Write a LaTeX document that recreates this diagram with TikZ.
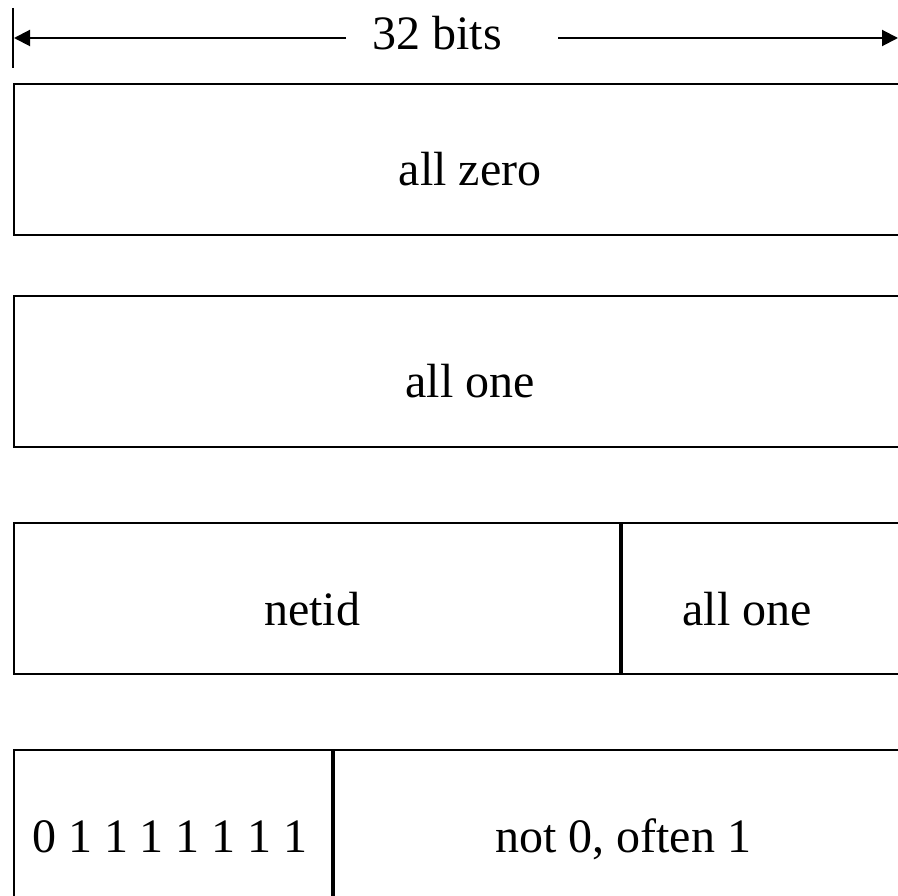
\documentclass[tikz,border=0pt]{standalone}
\usepackage{fontspec}
\setmainfont{Liberation Serif}
\usetikzlibrary{arrows.meta}
\begin{document}
\begin{tikzpicture}[x=1pt,y=-1pt,
  cell/.style={draw=black,line width=2.2pt,inner sep=0pt,minimum height=151pt},
  lbl/.style={font=\fontsize{48}{57}\selectfont,anchor=base,inner sep=0pt},
  dim/.style={line width=2pt,-{Triangle[length=16pt,width=16pt]}}]
\useasboundingbox (0,0) rectangle (898,896);
\clip (0,0) rectangle (898,896);
% dimension line
\draw[line width=2.7pt] (13,8) -- (13,68);
\coordinate (L) at (14,38);
\coordinate (R) at (898,38);
\coordinate (la) at (346,38);
\coordinate (ra) at (558,38);
\node[lbl] (bits) at (437,50) {32 bits};
\draw[dim] (la) -- (L);
\draw[dim] (ra) -- (R);
% row 1
\node[cell,minimum width=900pt,anchor=north west] (z) at (13,83) {};
\node[lbl] (zt) at (470,186) {all zero};
% row 2
\node[cell,minimum width=900pt,anchor=north west] (o) at (13,295) {};
\node[lbl] (ot) at (470,398) {all one};
% row 3
\node[cell,minimum width=606pt,anchor=north west] (n) at (13,522) {};
\node[cell,minimum width=400pt,anchor=north west] (h) at (n.north east) {};
\node[lbl] (nt) at (312,625) {netid};
\node[lbl] (ht) at (747,625) {all one};
% row 4
\node[cell,minimum width=318pt,anchor=north west] (p) at (13,749) {};
\node[cell,minimum width=700pt,anchor=north west] (q) at (p.north east) {};
\node[lbl] (pt) at (170,852) {0 1 1 1 1 1 1 1};
\node[lbl] (qt) at (623,852) {not 0, often 1};
\end{tikzpicture}
\end{document}
